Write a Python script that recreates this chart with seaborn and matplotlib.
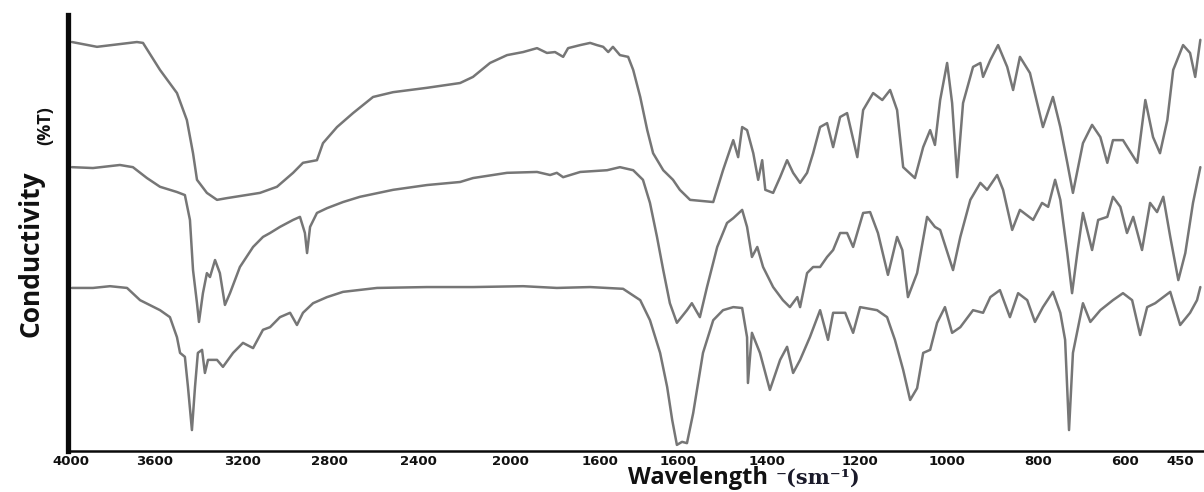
import numpy as np
import matplotlib
matplotlib.use("Agg")
import matplotlib.pyplot as plt
import seaborn as sns

# ---------------- data (wavenumber, %T) ----------------
curve1_wn = [3995, 3876, 3686, 3657, 3577, 3500, 3455, 3427, 3409, 3364,
             3318, 3273, 3121, 3042, 2967, 2921, 2856, 2828, 2764, 2692,
             2602, 2512, 2361, 2217, 2161, 2087, 2013, 1971, 1940, 1918,
             1900, 1882, 1871, 1844, 1822, 1807, 1792, 1779, 1767, 1749,
             1728, 1715, 1697, 1679, 1664, 1638, 1613, 1596, 1573, 1521,
             1499, 1476, 1465, 1456, 1445, 1431, 1420, 1411, 1404, 1387,
             1372, 1357, 1344, 1329, 1314, 1301, 1286, 1271, 1258, 1243,
             1228, 1206, 1193, 1170, 1149, 1131, 1115, 1101, 1074, 1055,
             1039, 1028, 1016, 1000, 989, 978, 965, 943, 927, 921,
             905, 888, 868, 855, 840, 818, 789, 766, 749, 733,
             720, 697, 676, 657, 641, 628, 605, 567, 545, 524,
             505, 485, 469, 442, 423, 409, 395]
curve1_t = [93.8, 92.7, 93.8, 93.6, 87.4, 82.1, 75.9, 68.3, 62.2, 59.2,
            57.6, 58.0, 59.2, 60.6, 63.8, 66.1, 66.7, 70.6, 74.3, 77.5,
            81.2, 82.3, 83.3, 84.4, 85.8, 89.0, 90.8, 91.5, 92.4, 91.3,
            91.5, 90.4, 92.4, 93.1, 93.6, 93.1, 92.7, 91.5, 92.7, 90.8,
            90.4, 87.4, 81.2, 73.6, 68.3, 64.4, 62.2, 59.9, 57.6, 57.1,
            64.4, 71.3, 67.4, 74.3, 73.6, 68.3, 62.2, 66.7, 59.9, 59.2,
            62.8, 66.7, 63.8, 61.5, 63.8, 68.3, 74.3, 75.2, 69.7, 76.6,
            77.5, 67.4, 78.2, 82.1, 80.5, 82.8, 78.2, 65.1, 62.6, 69.7,
            73.6, 70.2, 80.5, 89.0, 79.8, 62.8, 79.8, 88.1, 89.0, 85.8,
            89.7, 93.1, 88.1, 82.8, 90.4, 86.7, 74.3, 81.2, 74.3, 66.1,
            59.2, 70.6, 74.8, 72.0, 66.1, 71.3, 71.3, 66.1, 80.5, 72.0,
            68.3, 75.9, 87.4, 93.1, 91.3, 85.8, 94.3]

curve2_wn = [3995, 3895, 3767, 3705, 3638, 3577, 3500, 3464, 3441, 3427,
             3409, 3400, 3382, 3364, 3350, 3327, 3305, 3282, 3259, 3214,
             3153, 3107, 3074, 3028, 2967, 2935, 2912, 2902, 2888, 2856,
             2809, 2737, 2661, 2512, 2361, 2217, 2161, 2013, 1940, 1911,
             1896, 1882, 1844, 1782, 1749, 1715, 1690, 1672, 1654, 1638,
             1621, 1603, 1580, 1569, 1551, 1535, 1512, 1490, 1476, 1456,
             1445, 1434, 1422, 1409, 1387, 1366, 1351, 1335, 1329, 1314,
             1301, 1286, 1271, 1258, 1243, 1228, 1215, 1193, 1177, 1159,
             1136, 1115, 1103, 1090, 1069, 1046, 1028, 1016, 987, 971,
             949, 927, 912, 890, 877, 857, 840, 811, 791, 777,
             761, 749, 733, 722, 710, 697, 676, 662, 641, 628,
             611, 595, 578, 554, 532, 513, 496, 477, 455, 436,
             415, 395]
curve2_t = [65.1, 64.9, 65.6, 65.1, 62.6, 60.6, 59.4, 58.7, 53.0, 41.5,
            33.9, 29.6, 36.2, 40.8, 39.9, 43.8, 40.8, 33.5, 36.2, 42.2,
            46.8, 49.1, 50.0, 51.4, 53.0, 53.7, 50.0, 45.4, 51.4, 54.6,
            55.7, 57.1, 58.3, 59.9, 61.0, 61.7, 62.6, 63.8, 64.0, 63.3,
            63.8, 62.8, 64.0, 64.4, 65.1, 64.4, 62.2, 56.9, 49.1, 41.5,
            33.9, 29.4, 32.3, 33.9, 30.7, 37.6, 46.8, 52.3, 53.4, 55.3,
            51.4, 44.5, 46.8, 42.2, 37.6, 34.6, 33.0, 35.3, 33.0, 40.8,
            42.2, 42.2, 44.5, 46.1, 50.0, 50.0, 46.8, 54.6, 54.8, 50.0,
            40.4, 49.1, 46.1, 35.3, 40.8, 53.7, 51.4, 50.7, 41.5, 49.1,
            57.6, 61.5, 59.9, 63.3, 59.9, 50.7, 55.3, 53.0, 56.9, 56.0,
            62.2, 57.6, 45.4, 36.2, 45.4, 54.6, 46.1, 53.0, 53.7, 58.3,
            56.0, 50.0, 53.7, 46.1, 56.9, 54.8, 58.3, 49.1, 39.2, 45.4,
            56.9, 65.1]

curve3_wn = [3995, 3895, 3814, 3733, 3671, 3577, 3532, 3500, 3486, 3464,
             3450, 3432, 3418, 3405, 3386, 3373, 3359, 3318, 3291, 3245,
             3200, 3153, 3107, 3074, 3028, 2981, 2949, 2921, 2874, 2809,
             2737, 2584, 2361, 2161, 1971, 1896, 1822, 1741, 1697, 1672,
             1646, 1628, 1615, 1603, 1591, 1580, 1566, 1544, 1521, 1499,
             1476, 1456, 1445, 1443, 1434, 1416, 1394, 1372, 1357, 1344,
             1329, 1308, 1286, 1269, 1258, 1232, 1215, 1200, 1161, 1138,
             1120, 1101, 1085, 1069, 1055, 1039, 1023, 1005, 989, 971,
             943, 921, 905, 884, 862, 844, 824, 807, 789, 766,
             749, 738, 729, 720, 697, 680, 657, 628, 605, 581,
             559, 540, 518, 496, 477, 450, 423, 404, 395]
curve3_t = [37.4, 37.4, 37.8, 37.4, 34.6, 32.3, 30.7, 26.1, 22.5, 21.6,
            14.7, 4.8, 14.7, 22.5, 23.2, 17.9, 20.9, 20.9, 19.3, 22.5,
            24.8, 23.6, 27.8, 28.4, 30.7, 31.7, 28.9, 31.7, 33.9, 35.3,
            36.5, 37.4, 37.6, 37.6, 37.8, 37.4, 37.6, 37.2, 34.6, 30.0,
            22.5, 14.7, 7.1, 1.4, 2.1, 1.8, 8.7, 22.5, 30.0, 32.3,
            33.0, 32.8, 26.1, 15.6, 27.1, 22.5, 14.0, 20.9, 23.9, 17.9,
            20.9, 26.1, 32.3, 25.5, 31.7, 31.7, 27.1, 33.0, 32.3, 30.7,
            25.5, 18.6, 11.7, 14.4, 22.5, 23.2, 29.4, 33.0, 27.1, 28.4,
            32.3, 31.7, 35.3, 36.9, 30.7, 36.2, 34.6, 29.6, 33.0, 36.5,
            31.7, 25.5, 4.8, 22.5, 33.9, 29.6, 32.3, 34.6, 36.2, 34.6,
            26.6, 33.0, 33.9, 35.3, 36.5, 28.9, 31.7, 34.6, 37.6]

tick_values = [4000, 3600, 3200, 2800, 2400, 2000, 1800, 1600, 1400, 1200, 1000, 800, 600, 450]
tick_labels = ["4000", "3600", "3200", "2800", "2400", "2000", "1600", "1600",
               "1400", "1200", "1000", "800", "600", "450"]

# ---------------- axis layout (piecewise scale of the original printout) ----------------
scale_wn = [4100] + tick_values + [300]
scale_pos = [-21, 0, 84, 172, 258, 347, 439, 529, 607, 696, 789, 876, 967, 1054, 1109, 1164]
wn_asc = np.array(scale_wn[::-1], dtype=float)
pos_for_asc = -np.array(scale_pos[::-1], dtype=float)
neg_pos_asc = -np.array(scale_pos, dtype=float)[::-1]
wn_for_neg = np.array(scale_wn, dtype=float)[::-1]


def forward(w):
    # increasing function of wavenumber; the axis is then inverted
    return np.interp(w, wn_asc, pos_for_asc)


def inverse(p):
    return np.interp(p, neg_pos_asc, wn_for_neg)


sns.set_theme(style="white")
plt.rcParams["font.family"] = ["DejaVu Sans"]

W, H = 1204, 492
fig = plt.figure(figsize=(W / 100, H / 100), dpi=100)
ax = fig.add_axes([68 / W, 41 / H, (W - 68) / W, 436 / H])

ax.set_xscale("function", functions=(forward, inverse))

line_color = "#767676"
for wn, t in [(curve1_wn, curve1_t), (curve2_wn, curve2_t), (curve3_wn, curve3_t)]:
    sns.lineplot(x=wn, y=t, ax=ax, color=line_color, linewidth=1.8,
                 estimator=None, sort=False)

ax.set_xlim(4014, 385)
ax.set_ylim(0, 100)
ax.set_xticks(tick_values)
ax.set_xticklabels(tick_labels, fontweight="bold", fontsize=9.5)
ax.set_yticks([])
ax.tick_params(axis="x", length=0, pad=3, colors="#111111")
ax.set_xlabel("")
ax.set_ylabel("")

for s in ["top", "right"]:
    ax.spines[s].set_visible(False)
ax.spines["left"].set_linewidth(3.8)
ax.spines["left"].set_color("#0a0a0a")
ax.spines["bottom"].set_linewidth(1.8)
ax.spines["bottom"].set_color("#0a0a0a")

# axis titles
fig.text(628 / W, 1 - 484 / H, "Wavelength", ha="left", va="baseline",
         fontsize=17, fontweight="bold", family=["Open Sans", "DejaVu Sans"], color="#111111")
fig.text(776 / W, 1 - 484 / H, "\u207b(sm\u207b\u00b9)", ha="left", va="baseline",
         fontsize=15, fontweight="bold", family=["DejaVu Serif"], color="#1a1a2a")
fig.text(31 / W, 1 - 254 / H, "Conductivity", rotation=90, ha="center", va="center",
         fontsize=19, fontweight="bold", family=["Open Sans", "DejaVu Sans"], color="#111111")
fig.text(45 / W, 1 - 126 / H, "(%T)", rotation=90, ha="center", va="center",
         fontsize=13, fontweight="bold", family=["Open Sans", "DejaVu Sans"], color="#111111")

fig.savefig("out.png", dpi=100)
